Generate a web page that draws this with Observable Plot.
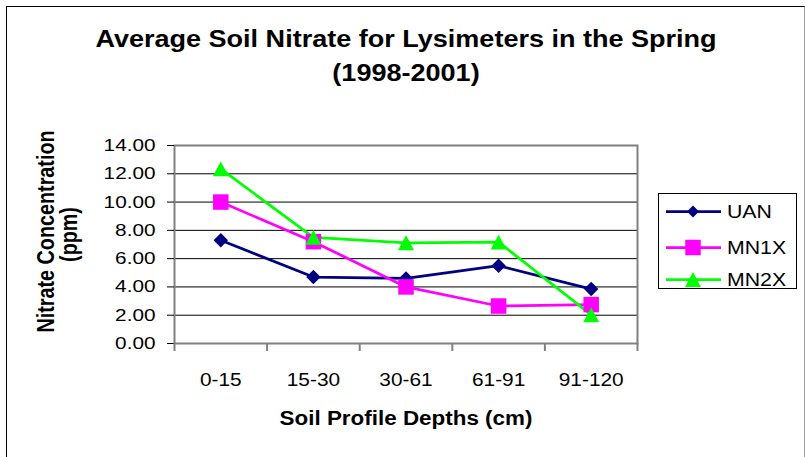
<!DOCTYPE html>
<html>
<head>
<meta charset="utf-8">
<script src="https://cdn.jsdelivr.net/npm/d3@7"></script>
<script src="https://cdn.jsdelivr.net/npm/@observablehq/plot@0.6"></script>
<style>
  html, body { margin: 0; padding: 0; background: #fff; }
  #wrap { position: relative; width: 806px; height: 457px; overflow: hidden; background: #fff;
          font-family: "Liberation Sans", Arial, sans-serif; }
  #wrap svg { position: absolute; left: 0; top: 0; }
  #border { position: absolute; left: 6px; top: 6px; width: 799px; height: 480px; box-sizing: border-box;
            border-left: 1px solid #000; border-top: 1px solid #000; border-right: 1px solid #a0a0a0; }
</style>
</head>
<body>
<div id="wrap"><div id="border"></div></div>
<script>
// ---------------- data ----------------
const categories = ["0-15", "15-30", "30-61", "61-91", "91-120"];
const uan  = [7.3, 4.7, 4.6, 5.5, 3.85];
const mn1x = [10.0, 7.2, 4.0, 2.65, 2.75];
const mn2x = [12.35, 7.5, 7.12, 7.17, 2.02];
const seriesNames = ["UAN", "MN1X", "MN2X"];
const seriesColors = ["#000080", "#FF00FF", "#00FF00"];
const yTicks = [0, 2, 4, 6, 8, 10, 12, 14];
const titleLines = ["Average Soil Nitrate for Lysimeters in the Spring", "(1998-2001)"];
const xTitle = "Soil Profile Depths (cm)";
const yTitleLines = ["Nitrate Concentration", "(ppm)"];

// ---------------- symbols (extent = 2 * r) ----------------
const diamond = { draw(ctx, size) { const r = Math.sqrt(size / Math.PI);
  ctx.moveTo(0, -r); ctx.lineTo(r, 0); ctx.lineTo(0, r); ctx.lineTo(-r, 0); ctx.closePath(); } };
const square = { draw(ctx, size) { const r = Math.sqrt(size / Math.PI);
  ctx.moveTo(-r, -r); ctx.lineTo(r, -r); ctx.lineTo(r, r); ctx.lineTo(-r, r); ctx.closePath(); } };
const triangle = { draw(ctx, size) { const r = Math.sqrt(size / Math.PI); const h = r * 0.93;
  ctx.moveTo(0, -h); ctx.lineTo(r, h); ctx.lineTo(-r, h); ctx.closePath(); } };

const series = [
  { name: seriesNames[0], values: uan,  color: seriesColors[0], symbol: diamond,  r: 7.2, lr: 6 },
  { name: seriesNames[1], values: mn1x, color: seriesColors[1], symbol: square,   r: 7.75, lr: 7.75 },
  { name: seriesNames[2], values: mn2x, color: seriesColors[2], symbol: triangle, r: 8, lr: 8 }
];

const W = 806, H = 457;
const mL = 174, mR = 169, mT = 145, mB = 114;
const bold = "bold";

const chart = Plot.plot({
  width: W, height: H,
  marginLeft: mL, marginRight: mR, marginTop: mT, marginBottom: mB,
  style: { fontFamily: "'Liberation Sans', Arial, sans-serif", fontSize: "17px", color: "#000", background: "transparent", overflow: "visible" },
  x: { type: "linear", domain: [0, categories.length], axis: null },
  y: { type: "linear", domain: [0, 14], axis: null },
  marks: [
    Plot.gridY(yTicks, { stroke: "#000", strokeOpacity: 1, strokeWidth: 1 }),
    Plot.frame({ stroke: "#808080", strokeWidth: 2 }),
    Plot.axisY({ ticks: yTicks, tickFormat: d => d.toFixed(2), tickSize: 7, tickPadding: 12,
                 fontSize: 17, stroke: "#000", strokeOpacity: 1, fill: "#000", label: null }),
    Plot.axisX({ ticks: d3.range(categories.length + 1), tickSize: 8, tickFormat: () => "",
                 stroke: "#808080", strokeWidth: 2, strokeOpacity: 1, label: null }),
    Plot.axisX({ ticks: categories.map((_, i) => i + 0.5), tickSize: 0, tickPadding: 30,
                 tickFormat: v => categories[Math.round(v - 0.5)], fontSize: 17.5, fill: "#000", label: null }),
    ...series.map(s => Plot.line(s.values, { x: (d, i) => i + 0.5, y: d => d, stroke: s.color, strokeWidth: 2.75 })),
    ...series.map(s => Plot.dot(s.values, { x: (d, i) => i + 0.5, y: d => d, symbol: s.symbol, r: s.r, fill: s.color, stroke: "none" })),
    Plot.text([titleLines[0]], { text: d => d, frameAnchor: "top", lineAnchor: "bottom", dy: 46 - mT, fontSize: 23.5, fontWeight: bold, fill: "#000" }),
    Plot.text([titleLines[1]], { text: d => d, frameAnchor: "top", lineAnchor: "bottom", dy: 80 - mT, fontSize: 23.5, fontWeight: bold, fill: "#000" }),
    Plot.text([xTitle], { text: d => d, frameAnchor: "bottom", lineAnchor: "bottom", dy: 424 - (H - mB), fontSize: 19.5, fontWeight: bold, fill: "#000" }),
    Plot.text([yTitleLines[0]], { text: d => d, frameAnchor: "left", textAnchor: "middle", rotate: -90, lineAnchor: "middle", dx: 46.5 - mL, dy: -13, fontSize: 23, fontWeight: bold, fill: "#000" }),
    Plot.text([yTitleLines[1]], { text: d => d, frameAnchor: "left", textAnchor: "middle", rotate: -90, lineAnchor: "middle", dx: 69.5 - mL, dy: -10, fontSize: 23, fontWeight: bold, fill: "#000" })
  ]
});

const wrap = document.getElementById("wrap");
wrap.appendChild(chart);

// ---------------- legend ----------------
const leg = d3.select(wrap).append("svg")
  .attr("width", W).attr("height", H)
  .style("font-family", "'Liberation Sans', Arial, sans-serif");
leg.append("rect").attr("x", 658.5).attr("y", 193.5).attr("width", 138).attr("height", 95)
  .attr("fill", "#fff").attr("stroke", "#000").attr("stroke-width", 1);
const rowY = [211.5, 247.5, 279.5];
series.forEach((s, k) => {
  const y = rowY[k];
  leg.append("line").attr("x1", 666).attr("x2", 721).attr("y1", y).attr("y2", y)
    .attr("stroke", s.color).attr("stroke-width", 2.75);
  leg.append("path").attr("transform", `translate(693,${y})`)
    .attr("d", d3.symbol(s.symbol, Math.PI * s.lr * s.lr)()).attr("fill", s.color);
  leg.append("text").attr("x", 727).attr("y", y + 6.6).attr("font-size", 18.5).attr("fill", "#000")
    .attr("class", "legtext").text(s.name);
});

// ---------------- match the reference's text proportions ----------------
wrap.querySelectorAll("svg text").forEach(t => {
  const rotated = (t.getAttribute("transform") || "").includes("rotate");
  const g = t.closest("g[aria-label]");
  const lab = g ? g.getAttribute("aria-label") : "";
  const f = rotated ? 0.86 : lab.includes("y-axis") ? 1.22 : lab.includes("x-axis") ? 1.19 : 1.15;
  const L = t.getComputedTextLength();
  if (L > 0) { t.setAttribute("textLength", (L * f).toFixed(1)); t.setAttribute("lengthAdjust", "spacingAndGlyphs"); }
});
</script>
</body>
</html>
